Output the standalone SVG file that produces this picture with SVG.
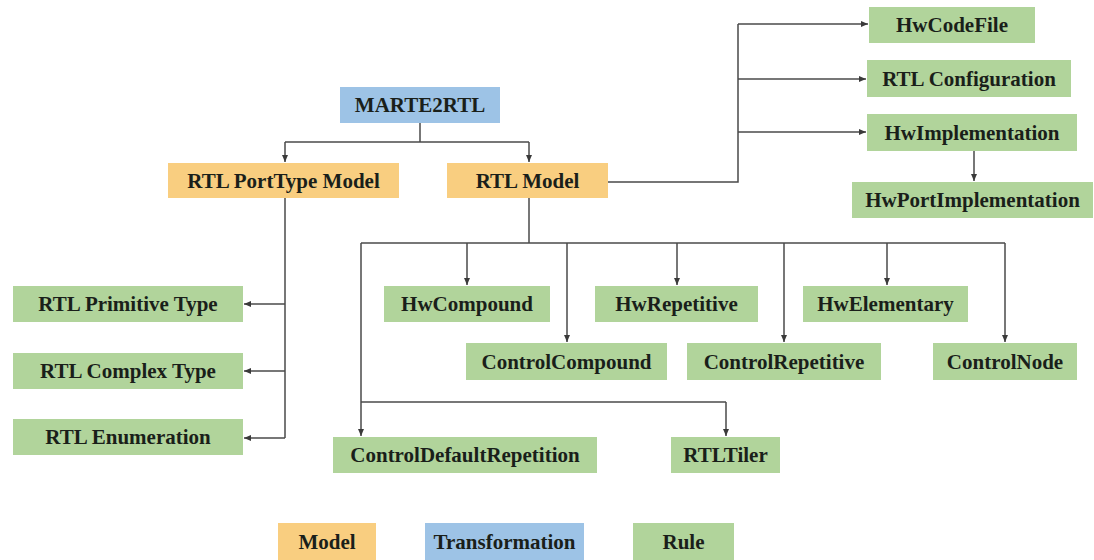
<svg xmlns="http://www.w3.org/2000/svg" width="1094" height="560" viewBox="0 0 1094 560">
  <defs>
    <marker id="arrow" markerUnits="userSpaceOnUse" markerWidth="8" markerHeight="8" refX="7" refY="4" orient="auto">
      <path d="M0,1 L7,4 L0,7 Z" fill="#3a3a3a"/>
    </marker>
    <style>
      .model { fill: #F9CE80; }
      .trans { fill: #9DC3E6; }
      .rule { fill: #B1D49B; }
      .lbl { font-weight: bold; font-size: 21px; fill: #1a1f1a; text-anchor: middle; }
      .conn path { fill: none; stroke: #4a4a4a; stroke-width: 1.5; }
    </style>
  </defs>
  <rect width="1094" height="560" fill="#ffffff"/>

  <!-- connectors -->
  <g id="connectors" class="conn">
    <path d="M420,123 V142"/>
    <path d="M285,142 H529"/>
    <path d="M285,142 V162" marker-end="url(#arrow)"/>
    <path d="M529,142 V162" marker-end="url(#arrow)"/>

    <path d="M608,182 H738 V24"/>
    <path d="M738,24 H868" marker-end="url(#arrow)"/>
    <path d="M738,79 H866" marker-end="url(#arrow)"/>
    <path d="M738,132 H866" marker-end="url(#arrow)"/>
    <path d="M974,151 V181" marker-end="url(#arrow)"/>

    <path d="M285,198 V438"/>
    <path d="M285,304 H244" marker-end="url(#arrow)"/>
    <path d="M285,371 H244" marker-end="url(#arrow)"/>
    <path d="M285,438 H244" marker-end="url(#arrow)"/>

    <path d="M529,198 V243"/>
    <path d="M361,243 H1005"/>
    <path d="M467,243 V285" marker-end="url(#arrow)"/>
    <path d="M567,243 V342" marker-end="url(#arrow)"/>
    <path d="M677,243 V285" marker-end="url(#arrow)"/>
    <path d="M784,243 V342" marker-end="url(#arrow)"/>
    <path d="M887,243 V285" marker-end="url(#arrow)"/>
    <path d="M1005,243 V342" marker-end="url(#arrow)"/>
    <path d="M361,243 V436" marker-end="url(#arrow)"/>
    <path d="M361,402 H726"/>
    <path d="M726,402 V436" marker-end="url(#arrow)"/>
  </g>

  <g font-family="Liberation Serif, DejaVu Serif, serif">
  <!-- transformation -->
  <g id="marte2rtl">
    <rect class="trans" x="340" y="87" width="160" height="36"/>
    <text class="lbl" x="420" y="112">MARTE2RTL</text>
  </g>

  <!-- models -->
  <g id="rtl-porttype-model">
    <rect class="model" x="168" y="163" width="231" height="35"/>
    <text class="lbl" x="283.5" y="188">RTL PortType Model</text>
  </g>
  <g id="rtl-model">
    <rect class="model" x="447" y="163" width="161" height="35"/>
    <text class="lbl" x="527.5" y="188">RTL Model</text>
  </g>

  <!-- rules: right column -->
  <g id="hwcodefile">
    <rect class="rule" x="869" y="7" width="166" height="36"/>
    <text class="lbl" x="952" y="32">HwCodeFile</text>
  </g>
  <g id="rtl-configuration">
    <rect class="rule" x="867" y="60" width="204" height="37"/>
    <text class="lbl" x="969" y="86">RTL Configuration</text>
  </g>
  <g id="hwimplementation">
    <rect class="rule" x="867" y="114" width="210" height="37"/>
    <text class="lbl" x="972" y="140">HwImplementation</text>
  </g>
  <g id="hwportimplementation">
    <rect class="rule" x="852" y="182" width="241" height="36"/>
    <text class="lbl" x="972.5" y="207">HwPortImplementation</text>
  </g>

  <!-- rules: port types -->
  <g id="rtl-primitive-type">
    <rect class="rule" x="13" y="286" width="230" height="36"/>
    <text class="lbl" x="128" y="311">RTL Primitive Type</text>
  </g>
  <g id="rtl-complex-type">
    <rect class="rule" x="13" y="353" width="230" height="36"/>
    <text class="lbl" x="128" y="378">RTL Complex Type</text>
  </g>
  <g id="rtl-enumeration">
    <rect class="rule" x="13" y="419" width="230" height="36"/>
    <text class="lbl" x="128" y="444">RTL Enumeration</text>
  </g>

  <!-- rules: components -->
  <g id="hwcompound">
    <rect class="rule" x="384" y="286" width="166" height="36"/>
    <text class="lbl" x="467" y="311">HwCompound</text>
  </g>
  <g id="hwrepetitive">
    <rect class="rule" x="595" y="286" width="163" height="36"/>
    <text class="lbl" x="676.5" y="311">HwRepetitive</text>
  </g>
  <g id="hwelementary">
    <rect class="rule" x="803" y="286" width="165" height="36"/>
    <text class="lbl" x="885.5" y="311">HwElementary</text>
  </g>
  <g id="controlcompound">
    <rect class="rule" x="466" y="343" width="201" height="37"/>
    <text class="lbl" x="566.5" y="369">ControlCompound</text>
  </g>
  <g id="controlrepetitive">
    <rect class="rule" x="687" y="343" width="194" height="37"/>
    <text class="lbl" x="784" y="369">ControlRepetitive</text>
  </g>
  <g id="controlnode">
    <rect class="rule" x="933" y="343" width="144" height="37"/>
    <text class="lbl" x="1005" y="369">ControlNode</text>
  </g>
  <g id="controldefaultrepetition">
    <rect class="rule" x="333" y="437" width="264" height="36"/>
    <text class="lbl" x="465" y="462">ControlDefaultRepetition</text>
  </g>
  <g id="rtltiler">
    <rect class="rule" x="671" y="437" width="109" height="36"/>
    <text class="lbl" x="725.5" y="462">RTLTiler</text>
  </g>

  <!-- legend -->
  <g id="legend-model">
    <rect class="model" x="278" y="523" width="98" height="37"/>
    <text class="lbl" x="327" y="549">Model</text>
  </g>
  <g id="legend-transformation">
    <rect class="trans" x="425" y="523" width="159" height="37"/>
    <text class="lbl" x="504.5" y="549">Transformation</text>
  </g>
  <g id="legend-rule">
    <rect class="rule" x="633" y="523" width="101" height="37"/>
    <text class="lbl" x="683.5" y="549">Rule</text>
  </g>
  </g>
</svg>
